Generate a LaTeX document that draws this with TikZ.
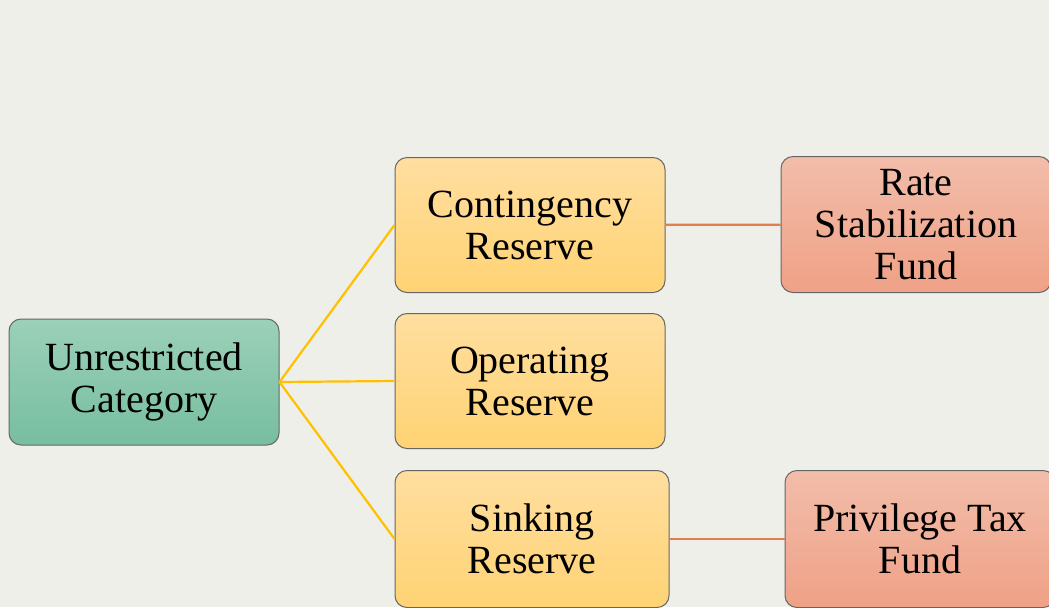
\documentclass[tikz,border=0pt]{standalone}
\usepackage{fontspec}
\setmainfont{Liberation Serif}
\usepackage{tikz}
\usetikzlibrary{positioning}
\definecolor{bgcol}{HTML}{EFEFE9}
\definecolor{greentop}{HTML}{9BD0B9}
\definecolor{greenbot}{HTML}{77BE9F}
\definecolor{yellowtop}{HTML}{FFDE9F}
\definecolor{yellowbot}{HTML}{FFD374}
\definecolor{redtop}{HTML}{F2BDAA}
\definecolor{redbot}{HTML}{EFA186}
\definecolor{yline}{HTML}{FFC000}
\definecolor{oline}{HTML}{E27D4E}

\begin{document}
\begin{tikzpicture}[x=0.5pt,y=-0.5pt,
 box/.style={draw=black!60,line width=0.5pt,rounded corners=6pt,align=center,font=\fontsize{20}{21}\selectfont,minimum width=135pt,minimum height=67.5pt,inner sep=2pt},
 rootbox/.style={box,top color=greentop,bottom color=greenbot},
 reservebox/.style={box,top color=yellowtop,bottom color=yellowbot},
 fundbox/.style={box,top color=redtop,bottom color=redbot},
 link/.style={line width=1.1pt}]
\path[fill=bgcol,use as bounding box] (0,0) rectangle (1049,607);
\node[rootbox,minimum height=63pt] (root) at (144,382) {Unrestricted\\Category};
\node[reservebox] (contingency) at (530,225) {Contingency\\Reserve};
\node[reservebox] (operating) at (530,381) {Operating\\Reserve};
\node[reservebox,minimum width=137pt,minimum height=68.5pt] (sinking) at (532,539) {Sinking\\Reserve};
\node[fundbox,minimum height=68pt] (rate) at (916,224.5) {Rate\\Stabilization\\Fund};
\node[fundbox,minimum height=68.5pt] (privilege) at (920,539) {Privilege Tax\\Fund};
\draw[link,yline] (root.east)--(contingency.west);
\draw[link,yline] (root.east)--(operating.west);
\draw[link,yline] (root.east)--(sinking.west);
\draw[link,oline] (contingency)--(rate);
\draw[link,oline] (sinking)--(privilege);
\end{tikzpicture}
\end{document}
